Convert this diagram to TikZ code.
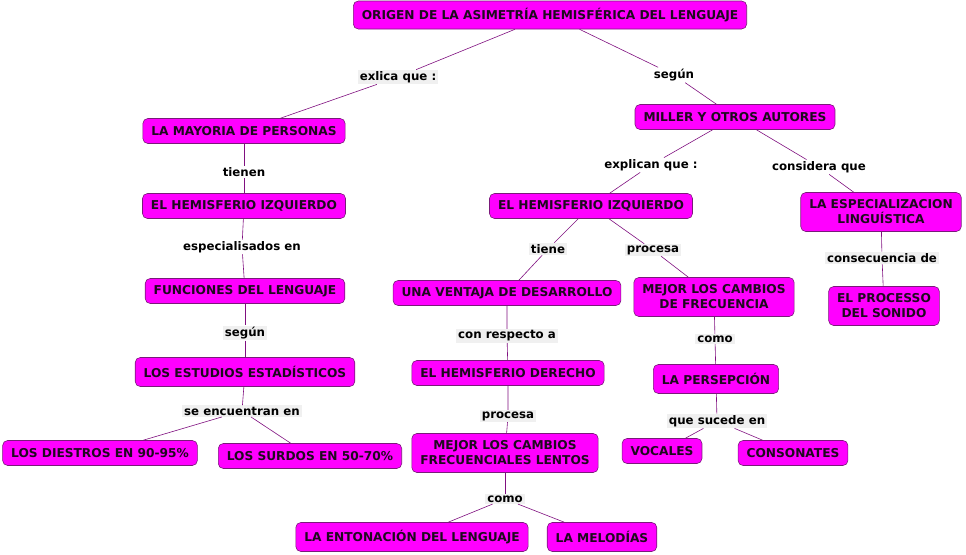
\documentclass[tikz,border=0pt]{standalone}
\usepackage{fontspec}
\setmainfont{DejaVu Sans}
\definecolor{cmapfill}{HTML}{FF00FF}
\definecolor{cmapedge}{HTML}{7A1A7A}
\definecolor{cmapline}{HTML}{801080}
\definecolor{cmaptext}{HTML}{1E0A1E}
\definecolor{lblgray}{HTML}{F0F0F0}

\begin{document}
\begin{tikzpicture}[x=1pt, y=-1pt,
  concept/.style={draw=cmapedge, fill=cmapfill, line width=0.6pt, rounded corners=5pt,
    font=\fontsize{12.2}{15}\selectfont\bfseries, text=cmaptext, align=center,
    inner xsep=8.5pt, inner ysep=3pt, minimum height=25pt},
  conceptwide/.style={concept, minimum height=39pt},
  linkword/.style={font=\fontsize{11.8}{14}\selectfont\bfseries, text=black, fill=white,
    inner xsep=2pt, inner ysep=1.5pt},
  linkgray/.style={linkword, fill=lblgray},
  link/.style={draw=cmapline, line width=0.6pt}]

% Frame
\useasboundingbox (0,0) rectangle (966,554);
\fill[white] (0,0) rectangle (966,554);

% =========== Concepts ===========
\node[concept, minimum height=28pt] (origen) at (550,15) {ORIGEN DE LA ASIMETRÍA HEMISFÉRICA DEL LENGUAJE};

% left branch
\node[concept] (mayoria) at (244,131) {LA MAYORIA DE PERSONAS};
\node[concept] (hemiizq) at (244,206) {EL HEMISFERIO IZQUIERDO};
\node[concept] (funciones) at (245,291) {FUNCIONES DEL LENGUAJE};
\node[concept, minimum height=29pt] (estudios) at (245,372) {LOS ESTUDIOS ESTADÍSTICOS};
\node[concept] (diestros) at (100,453) {LOS DIESTROS EN 90-95\%};
\node[concept] (surdos) at (310,456) {LOS SURDOS EN 50-70\%};

% right branch
\node[concept] (miller) at (735,117) {MILLER Y OTROS AUTORES};
\node[concept] (hemiizqb) at (591,206) {EL HEMISFERIO IZQUIERDO};
\node[conceptwide] (especial) at (881,212) {LA ESPECIALIZACION\\LINGUÍSTICA};
\node[concept] (ventaja) at (507,293) {UNA VENTAJA DE DESARROLLO};
\node[conceptwide] (cambiosfrec) at (714,297) {MEJOR LOS CAMBIOS\\DE FRECUENCIA};
\node[conceptwide] (sonido) at (884,306) {EL PROCESSO\\DEL SONIDO};
\node[concept] (hemider) at (508,373) {EL HEMISFERIO DERECHO};
\node[concept, minimum height=29pt] (persep) at (716,379) {LA PERSEPCIÓN};
\node[conceptwide] (lentos) at (505,453) {MEJOR LOS CAMBIOS\\FRECUENCIALES LENTOS};
\node[concept] (vocales) at (662,451) {VOCALES};
\node[concept] (consonantes) at (793,453) {CONSONATES};
\node[concept, minimum height=29pt] (entonacion) at (412,537) {LA ENTONACIÓN DEL LENGUAJE};
\node[concept, minimum height=29pt] (melodias) at (602,537) {LA MELODÍAS};

% =========== Linking words ===========
\node[linkgray] (lexlica) at (398,77) {exlica que :};
\node[linkword] (lsegun) at (674,75) {según};
\node[linkword] (ltienen) at (244,172) {tienen};
\node[linkword] (lespec) at (242,247) {especialisados en};
\node[linkgray] (lsegunb) at (245,333) {según};
\node[linkgray] (lencuentran) at (242,411) {se encuentran en};
\node[linkword] (lexplican) at (651,165) {explican que :};
\node[linkword] (lconsidera) at (819,167) {considera que};
\node[linkgray] (ltiene) at (548,249) {tiene};
\node[linkgray] (lprocesa) at (653,250) {procesa};
\node[linkgray] (lconsec) at (882,258) {consecuencia de};
\node[linkgray] (lrespecto) at (507,336) {con respecto a};
\node[linkgray] (lcomo) at (715,339) {como};
\node[linkgray] (lprocesab) at (508,416) {procesa};
\node[linkgray] (lsucede) at (717,421) {que sucede en};
\node[linkgray] (lcomob) at (505,499) {como};

% =========== Connectors ===========
\draw[link] (origen) -- (lexlica) -- (mayoria);
\draw[link] (origen) -- (lsegun) -- (miller);
\draw[link] (mayoria) -- (ltienen) -- (hemiizq);
\draw[link] (hemiizq) -- (lespec) -- (funciones);
\draw[link] (funciones) -- (lsegunb) -- (estudios);
\draw[link] (estudios) -- (lencuentran);
\draw[link] (lencuentran) -- (diestros);
\draw[link] (lencuentran) -- (surdos);
\draw[link] (miller) -- (lexplican) -- (hemiizqb);
\draw[link] (miller) -- (lconsidera) -- (especial);
\draw[link] (hemiizqb) -- (ltiene) -- (ventaja);
\draw[link] (hemiizqb) -- (lprocesa) -- (cambiosfrec);
\draw[link] (especial) -- (lconsec) -- (sonido);
\draw[link] (ventaja) -- (lrespecto) -- (hemider);
\draw[link] (hemider) -- (lprocesab) -- (lentos);
\draw[link] (cambiosfrec) -- (lcomo) -- (persep);
\draw[link] (persep) -- (lsucede);
\draw[link] (lsucede) -- (vocales);
\draw[link] (lsucede) -- (consonantes);
\draw[link] (lentos) -- (lcomob);
\draw[link] (lcomob) -- (entonacion);
\draw[link] (lcomob) -- (melodias);

\end{tikzpicture}
\end{document}
